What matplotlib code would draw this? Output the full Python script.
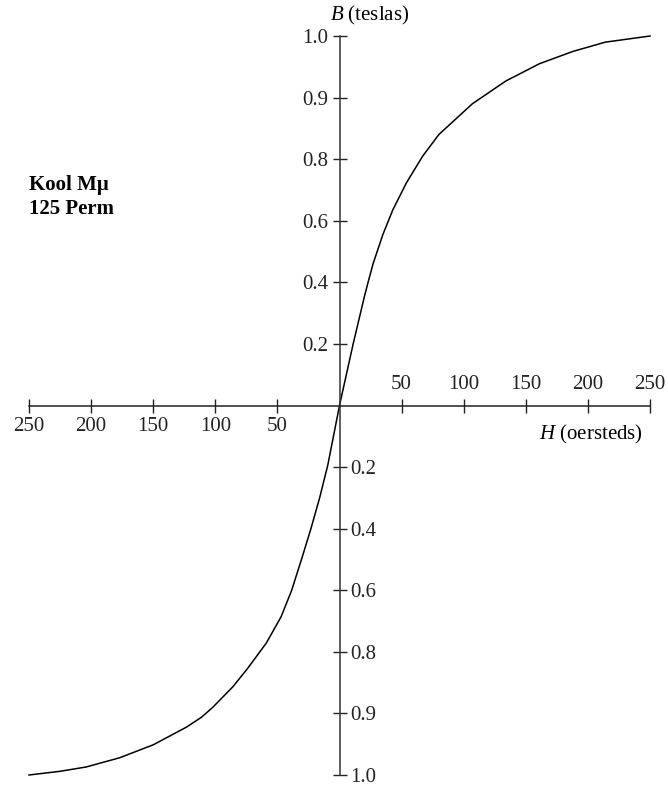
import numpy as np
import matplotlib
matplotlib.use("Agg")
from matplotlib import pyplot as plt
from matplotlib.ticker import FixedLocator

# B-H curve (H in oersteds, B in teslas)
H_VALUES = [-250, -225, -204, -177, -150, -123, -111, -102, -86, -74, -59,
            -47, -38.5, -30, -23, -16, -9.5, 0, 11, 20, 23, 27, 35, 43, 54,
            67, 80, 107, 134, 161, 188, 214, 250]
B_VALUES = [-1.0, -0.994, -0.987, -0.972, -0.951, -0.922, -0.906, -0.89,
            -0.857, -0.827, -0.772, -0.686, -0.6, -0.492, -0.4, -0.3, -0.195,
            0.0, 0.2, 0.353, 0.4, 0.46, 0.556, 0.636, 0.724, 0.805,
            0.84, 0.89, 0.927, 0.955, 0.975, 0.99, 1.0]

H_TICKS = [-250, -200, -150, -100, -50, 50, 100, 150, 200, 250]
B_TICKS = [-1.0, -0.9, -0.8, -0.6, -0.4, -0.2, 0.2, 0.4, 0.6, 0.8, 0.9, 1.0]

# the B axis is not linear: tick marks are evenly spaced
B_KNOTS = [-1.0, -0.9, -0.8, -0.6, -0.4, -0.2, 0.0, 0.2, 0.4, 0.6, 0.8, 0.9, 1.0]
B_POS = np.arange(-6, 7)


def b_forward(b):
    return np.interp(b, B_KNOTS, B_POS)


def b_inverse(p):
    return np.interp(p, B_POS, B_KNOTS)


plt.rcParams['font.family'] = ['Liberation Serif', 'DejaVu Serif']
plt.rcParams['mathtext.fontset'] = 'custom'
plt.rcParams['mathtext.rm'] = 'Liberation Serif'
plt.rcParams['mathtext.it'] = 'Liberation Serif:italic'

W, H = 668, 787
fig = plt.figure(figsize=(W / 100, H / 100), dpi=100)
ax = fig.add_axes([29 / W, (H - 775) / H, 621 / W, 739 / H])
ax.set_yscale('function', functions=(b_forward, b_inverse))
ax.set_xlim(-250, 250)
ax.set_ylim(-1.0, 1.0)

ax.plot(H_VALUES, B_VALUES, color='black', lw=1.1, clip_on=False)

# axes crossing at the origin
for side in ['left', 'right', 'bottom', 'top']:
    ax.spines[side].set_position(('data', 0))
ax.spines['right'].set_visible(False)
ax.spines['top'].set_visible(False)
ax.spines['left'].set_linewidth(1.1)
ax.spines['bottom'].set_linewidth(1.1)
ax.spines['left'].set_color('#333333')
ax.spines['bottom'].set_color('#222222')

ax.xaxis.set_major_locator(FixedLocator(H_TICKS))
ax.yaxis.set_major_locator(FixedLocator(B_TICKS))
ax.xaxis.set_minor_locator(FixedLocator([]))
ax.yaxis.set_minor_locator(FixedLocator([]))
ax.set_xticklabels([str(abs(v)) for v in H_TICKS])
ax.set_yticklabels([f'{abs(v):.1f}' for v in B_TICKS])

ax.tick_params(axis='both', which='major', direction='inout', length=10,
               width=1.0, labelsize=15, pad=3, colors='#222222',
               top=False, right=False)

# negative H labels below the axis, positive above
for tick, v in zip(ax.xaxis.get_major_ticks(), H_TICKS):
    tick.label1.set_visible(v < 0)
    tick.label2.set_visible(v > 0)
    tick.label2.set_fontsize(15)
# positive B labels left of the axis, negative right
for tick, v in zip(ax.yaxis.get_major_ticks(), B_TICKS):
    tick.label1.set_visible(v > 0)
    tick.label2.set_visible(v < 0)
    tick.label2.set_fontsize(15)

ax.set_facecolor('none')

fig.text(330 / W, 1 - 15 / H, r'$B$ (teslas)', fontsize=15,
         ha='left', va='center')
fig.text(539 / W, 1 - 434 / H, r'$H$ (oersteds)', fontsize=15,
         ha='left', va='center')
fig.text(29 / W, 1 - 197 / H, 'Kool Mμ\n125 Perm', fontsize=15,
         fontweight='bold', ha='left', va='center', linespacing=1.3)

fig.savefig('out.png', dpi=100)
